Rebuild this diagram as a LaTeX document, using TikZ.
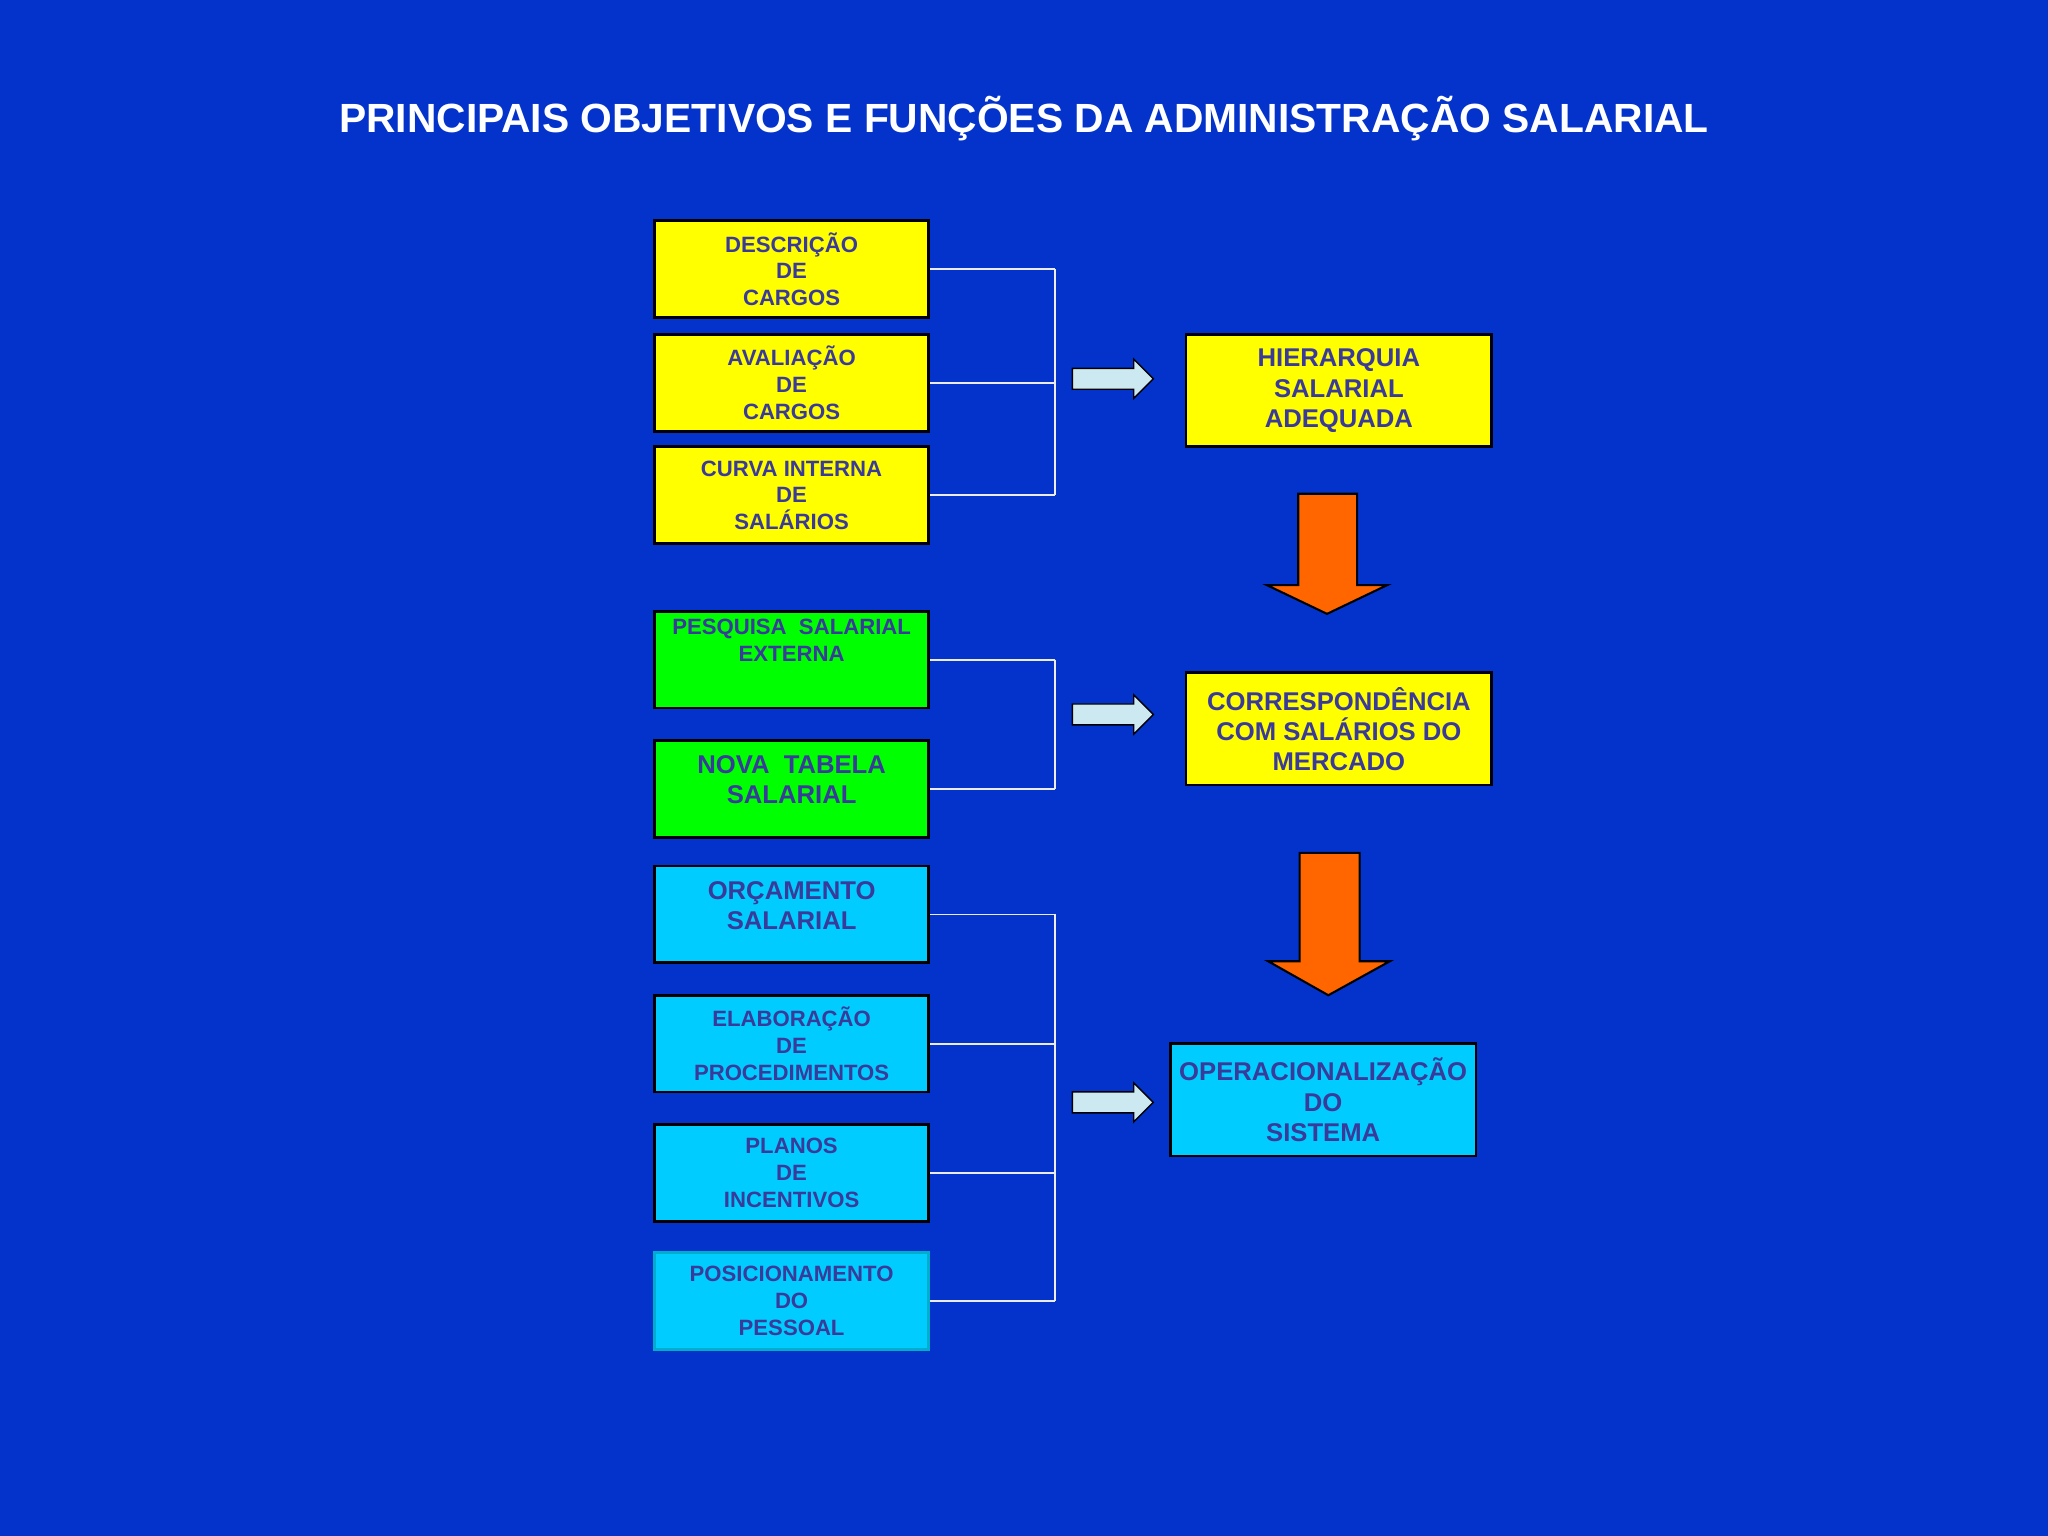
\documentclass[tikz,border=0pt]{standalone}
\usepackage{fontspec}
\setmainfont{Liberation Sans}
\definecolor{bg}{HTML}{0433CC}
\definecolor{tx}{HTML}{3A3A9A}
\definecolor{yel}{HTML}{FFFF00}
\definecolor{grn}{HTML}{00FF00}
\definecolor{cyn}{HTML}{00CCFF}
\definecolor{org}{HTML}{FF6600}
\definecolor{lblue}{HTML}{CCE8F0}
\begin{document}
\begin{tikzpicture}[x=0.013061cm,y=-0.013061cm,
  box/.style={draw=black,line width=0.8pt,minimum width=210*0.013061cm,minimum height=74*0.013061cm,
    font=\bfseries\fontsize{6.3}{7.6}\selectfont,text=tx,align=center,anchor=north west,inner sep=2pt},
  rbox/.style={box,minimum width=234*0.013061cm,minimum height=86*0.013061cm,font=\bfseries\fontsize{7.3}{8.6}\selectfont},
  conn/.style={draw=white!85!gray,line width=0.5pt},
  small/.style={fill=lblue,draw=black,line width=0.4pt},
  big/.style={fill=org,draw=black,line width=0.6pt}]
\fill[bg] (0,0) rectangle (1568,1176);
\node[text=white,font=\bfseries\fontsize{11.6}{13}\selectfont] (title) at (784,91) {PRINCIPAIS OBJETIVOS E FUNÇÕES DA ADMINISTRAÇÃO SALARIAL};
% left boxes
\node[box,fill=yel] (a1) at (500,168) {DESCRIÇÃO\\DE\\CARGOS};
\node[box,fill=yel] (a2) at (500,255) {AVALIAÇÃO\\DE\\CARGOS};
\node[box,fill=yel] (a3) at (500,341) {CURVA INTERNA\\DE\\SALÁRIOS};
\node[box,fill=grn,text depth=30*0.013061cm] (b1) at (500,467) {PESQUISA\ \ SALARIAL\\EXTERNA};
\node[box,fill=grn,font=\bfseries\fontsize{7.3}{8.6}\selectfont,text depth=14*0.013061cm] (b2) at (500,566) {NOVA\ \ TABELA\\SALARIAL};
\node[box,fill=cyn,font=\bfseries\fontsize{7.3}{8.6}\selectfont,text depth=14*0.013061cm] (c1) at (500,662) {ORÇAMENTO\\SALARIAL};
\node[box,fill=cyn] (c2) at (500,761) {ELABORAÇÃO\\DE\\PROCEDIMENTOS};
\node[box,fill=cyn] (c3) at (500,860) {PLANOS\\DE\\INCENTIVOS};
\node[box,fill=cyn,draw=cyn!60!teal] (c4) at (500,958) {POSICIONAMENTO\\DO\\PESSOAL};
% right boxes
\node[rbox,fill=yel] (h) at (907,255) {HIERARQUIA\\SALARIAL\\ADEQUADA};
\node[rbox,fill=yel] (m) at (907,514) {CORRESPONDÊNCIA\\COM SALÁRIOS DO\\MERCADO};
\node[rbox,fill=cyn] (o) at (895,798) {OPERACIONALIZAÇÃO\\DO\\SISTEMA};
% connectors
\foreach \n in {a1,a2,a3} \draw[conn] (\n.east) -- (\n.east -| 808,0);
\draw[conn] (a1.east -| 808,0) -- (a3.east -| 808,0);
\foreach \n in {b1,b2} \draw[conn] (\n.east) -- (\n.east -| 808,0);
\draw[conn] (b1.east -| 808,0) -- (b2.east -| 808,0);
\foreach \n in {c1,c2,c3,c4} \draw[conn] (\n.east) -- (\n.east -| 808,0);
\draw[conn] (c1.east -| 808,0) -- (c4.east -| 808,0);
% small arrows
\foreach \y in {290,547,844}
  \draw[small] (821,\y-8) -- (868,\y-8) -- (868,\y-15) -- (883,\y) -- (868,\y+15) -- (868,\y+8) -- (821,\y+8) -- cycle;
% orange arrows
\draw[big] (994,378) -- (1039,378) -- (1039,448) -- (1062,448) -- (1016,470) -- (970,448) -- (994,448) -- cycle;
\draw[big] (995,653) -- (1041,653) -- (1041,736) -- (1064,736) -- (1017,762) -- (971,736) -- (995,736) -- cycle;
\end{tikzpicture}
\end{document}
